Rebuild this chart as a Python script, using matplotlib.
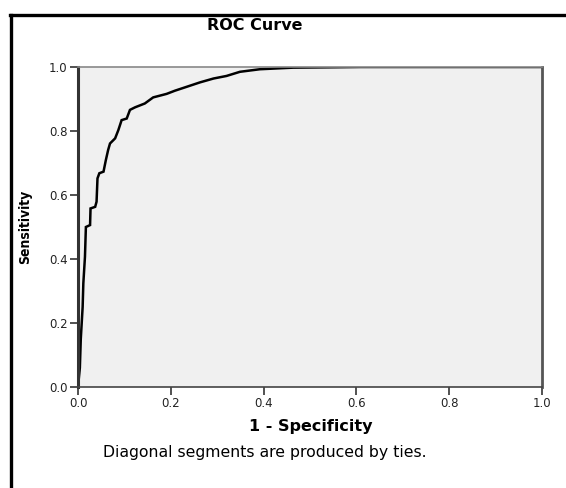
import matplotlib
matplotlib.use("Agg")
import matplotlib.pyplot as plt
from matplotlib.lines import Line2D

# ROC curve points
fpr = [0.000, 0.004, 0.006, 0.008, 0.010, 0.0115, 0.015, 0.017, 0.026, 0.027,
       0.037, 0.040, 0.042, 0.046, 0.055, 0.060, 0.065, 0.069, 0.080, 0.087,
       0.094, 0.105, 0.112, 0.123, 0.144, 0.162, 0.191, 0.209, 0.234, 0.263,
       0.292, 0.320, 0.349, 0.392, 0.464, 0.540, 0.610, 1.000]
tpr = [0.000, 0.060, 0.150, 0.200, 0.250, 0.324, 0.407, 0.500, 0.506, 0.558,
       0.563, 0.579, 0.652, 0.668, 0.673, 0.709, 0.741, 0.761, 0.777, 0.803,
       0.834, 0.839, 0.866, 0.874, 0.886, 0.905, 0.916, 0.926, 0.938, 0.952,
       0.964, 0.972, 0.985, 0.993, 0.998, 0.999, 1.000, 1.000]

ticks = [0.0, 0.2, 0.4, 0.6, 0.8, 1.0]
tick_labels = ["0.0", "0.2", "0.4", "0.6", "0.8", "1.0"]

title = "ROC Curve"
xlabel = "1 - Specificity"
ylabel = "Sensitivity"
footnote = "Diagonal segments are produced by ties."

plt.rcParams['font.family'] = ['DejaVu Sans']

W, H = 566, 488
fig = plt.figure(figsize=(W / 100, H / 100), dpi=100)
fig.patch.set_facecolor("white")

# outer frame (top and left lines)
fig.add_artist(Line2D([10 / W, 1.0], [1 - 15 / H, 1 - 15 / H], color="black", lw=2.4,
                      transform=fig.transFigure))
fig.add_artist(Line2D([11 / W, 11 / W], [0.0, 1 - 15 / H], color="black", lw=2.4,
                      transform=fig.transFigure))

ax = fig.add_axes([78 / W, 1 - 387 / H, (542 - 78) / W, (387 - 67) / H])
ax.set_facecolor("#f0f0f0")
ax.plot(fpr, tpr, color="black", lw=1.8, solid_joinstyle="miter")
ax.set_xlim(0, 1)
ax.set_ylim(0, 1)
ax.set_xticks(ticks)
ax.set_xticklabels(tick_labels)
ax.set_yticks(ticks)
ax.set_yticklabels(tick_labels)
ax.tick_params(direction="out", length=6, width=1.2, color="#333333",
               labelsize=8.5, labelcolor="#222222", pad=1.5)

for side, (c, w) in {"left": ("#333333", 2.2), "right": ("#555555", 2.0),
                     "top": ("#888888", 1.2), "bottom": ("#444444", 1.2)}.items():
    ax.spines[side].set_color(c)
    ax.spines[side].set_linewidth(w)

fig.text(311 / W, 1 - 427 / H, xlabel, ha="center", va="center",
         fontsize=11.5, fontweight="bold")
fig.text(25 / W, 1 - 227 / H, ylabel, rotation=90, ha="center", va="center",
         fontsize=10, fontweight="bold", stretch="condensed")

fig.text(207 / W, 1 - 25 / H, title, ha="left", va="center", fontsize=11.5,
         fontweight="bold")
fig.text(103 / W, 1 - 453 / H, footnote, ha="left", va="center", fontsize=11.3)

fig.savefig("out.png", dpi=100)
